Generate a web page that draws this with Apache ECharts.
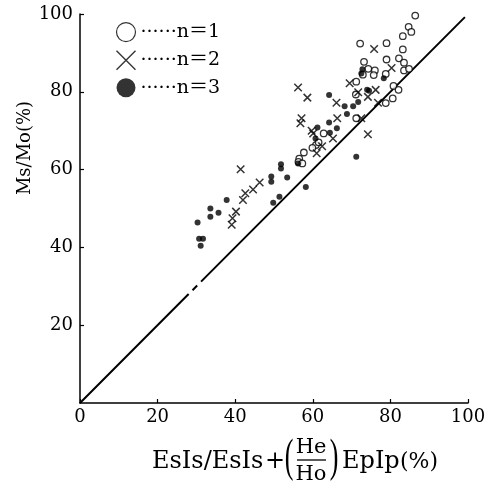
<!DOCTYPE html>
<html>
<head>
<meta charset="utf-8">
<script src="https://cdn.jsdelivr.net/npm/echarts@6/dist/echarts.min.js"></script>
<style>
  html, body { margin: 0; padding: 0; background: #fff; }
  #chart { width: 492px; height: 486px; }
</style>
</head>
<body>
<div id="chart"></div>
<script>
// values: [x %, y %]
const seriesNames = ['n＝1', 'n＝2', 'n＝3']
const openCircles = [[86.4, 99.6], [84.7, 96.7], [85.4, 95.4], [83.2, 94.3], [72.2, 92.4], [79.0, 92.5],
  [83.2, 90.9], [73.2, 87.7], [79.0, 88.3], [82.2, 88.6], [83.5, 87.5], [74.3, 85.9], [76.0, 85.5],
  [72.9, 84.4], [75.7, 84.3], [78.8, 84.6], [83.5, 85.5], [84.8, 85.9], [71.2, 82.6], [80.8, 81.5],
  [82.1, 80.5], [80.6, 78.3], [78.8, 77.1], [71.1, 79.3], [71.2, 73.2], [62.8, 69.3], [60.8, 66.3],
  [59.9, 65.6], [57.7, 64.4], [56.5, 62.8], [56.3, 62.0], [57.3, 61.6], [61.5, 67.0]]
const crosses = [[75.8, 91.0], [56.2, 81.1], [58.6, 78.5], [69.5, 82.2], [80.3, 86.1], [76.2, 80.5],
  [71.7, 79.9], [74.2, 78.7], [66.1, 77.2], [76.8, 77.2], [66.3, 73.2], [57.1, 73.2], [56.8, 71.9],
  [72.5, 73.2], [59.7, 70.0], [60.1, 69.3], [65.2, 68.0], [74.2, 69.1], [62.4, 66.0], [61.0, 64.2],
  [41.4, 60.1], [46.3, 56.7], [44.6, 54.9], [42.6, 53.9], [42.0, 52.2], [40.2, 49.2], [39.3, 47.5],
  [39.1, 45.8]]
const filledDots = [[30.3, 46.4], [30.7, 42.2], [31.7, 42.2], [31.1, 40.4], [33.6, 50.0], [33.6, 47.9],
  [35.7, 48.9], [37.8, 52.2], [49.3, 58.2], [49.3, 56.9], [49.8, 51.5], [51.4, 53.0], [51.8, 61.4],
  [51.8, 60.3], [53.4, 58.0], [58.2, 55.5], [71.2, 63.3], [56.2, 61.6], [64.2, 79.2], [68.2, 76.3],
  [70.4, 76.3], [71.7, 77.4], [68.8, 74.3], [64.2, 72.1], [66.2, 70.6], [64.4, 69.5], [61.2, 70.8],
  [60.7, 68.0], [78.3, 83.5], [72.8, 85.8], [72.5, 84.7], [74.0, 80.5], [74.5, 80.3]]
// y = x reference line, with the small breaks seen in the print
const diagonal = [[0, 0], [28.0, 28.0], null, [29.0, 29.0], [30.2, 30.2], null, [31.2, 31.2], [99.2, 99.2]]

const serif = '"DejaVu Serif", "Liberation Serif", serif'
const thinSerif = '"Liberation Serif", serif'
const legendFont = '"DejaVu Serif", "Noto Sans CJK JP", serif'
const crossPath = 'path://M0,0L10,10M10,0L0,10'

const chart = echarts.init(document.getElementById('chart'))

function valueAxis(extra) {
  return Object.assign({
    type: 'value', min: 0, max: 100, interval: 20,
    splitLine: { show: false },
    axisLine: { lineStyle: { color: '#000', width: 1.5 } },
    axisTick: { inside: true, length: 4, lineStyle: { color: '#000', width: 1.2 } },
    axisLabel: { color: '#000', fontFamily: serif, fontSize: 18 }
  }, extra)
}

chart.setOption({
  animation: false,
  backgroundColor: '#fff',
  grid: { left: 80, right: 24, top: 14, bottom: 83 },
  xAxis: valueAxis({ axisLabel: { color: '#000', fontFamily: serif, fontSize: 18, margin: 5 } }),
  yAxis: valueAxis({ axisLabel: { color: '#000', fontFamily: serif, fontSize: 18, margin: 7, showMinLabel: false } }),
  legend: {
    orient: 'vertical', left: 109, top: 17,
    itemWidth: 19, itemHeight: 19, itemGap: 6,
    formatter: name => '······' + name,
    textStyle: { color: '#000', fontFamily: legendFont, fontSize: 19 },
    data: [
      { name: seriesNames[0], icon: 'circle', itemStyle: { color: '#fff', borderColor: '#000', borderWidth: 1.2 } },
      { name: seriesNames[1], icon: crossPath, itemStyle: { color: 'none', borderColor: '#000', borderWidth: 1.4 } },
      { name: seriesNames[2], icon: 'circle', itemStyle: { color: '#000', borderWidth: 0 } }
    ]
  },
  series: [
    {
      name: seriesNames[0], type: 'scatter', data: openCircles, symbol: 'circle', symbolSize: 6.5,
      itemStyle: { color: '#fff', borderColor: '#000', borderWidth: 1.3 }, z: 3
    },
    {
      name: seriesNames[1], type: 'scatter', data: crosses, symbol: crossPath, symbolSize: 7.5,
      itemStyle: { color: 'none', borderColor: '#000', borderWidth: 1.5 }, z: 3
    },
    {
      name: seriesNames[2], type: 'scatter', data: filledDots, symbol: 'circle', symbolSize: 6,
      itemStyle: { color: '#000' }, z: 4
    },
    {
      type: 'line', data: diagonal, symbol: 'none', silent: true, connectNulls: false,
      lineStyle: { color: '#000', width: 2 }, z: 2
    }
  ],
  graphic: [
    { type: 'text', x: 25, y: 148, rotation: Math.PI / 2,
      style: { text: 'Ms/Mo(%)', fill: '#000', font: '18px ' + serif, align: 'center', verticalAlign: 'middle' } },
    { type: 'text', x: 152, y: 462,
      style: { text: 'EsIs/EsIs', fill: '#000', font: '24px ' + serif, align: 'left', verticalAlign: 'middle' } },
    { type: 'text', x: 275, y: 462,
      style: { text: '+', fill: '#000', font: '24px ' + serif, align: 'center', verticalAlign: 'middle' } },
    { type: 'text', x: 289, y: 459, scaleY: 1.8,
      style: { text: '(', fill: '#000', font: '26px ' + thinSerif, align: 'center', verticalAlign: 'middle' } },
    { type: 'text', x: 311, y: 448,
      style: { text: 'He', fill: '#000', font: '21px ' + serif, align: 'center', verticalAlign: 'middle' } },
    { type: 'line', shape: { x1: 297, y1: 460, x2: 326, y2: 460 }, style: { stroke: '#000', lineWidth: 1.3 } },
    { type: 'text', x: 311, y: 475,
      style: { text: 'Ho', fill: '#000', font: '21px ' + serif, align: 'center', verticalAlign: 'middle' } },
    { type: 'text', x: 334, y: 459, scaleY: 1.8,
      style: { text: ')', fill: '#000', font: '26px ' + thinSerif, align: 'center', verticalAlign: 'middle' } },
    { type: 'text', x: 342, y: 462,
      style: { text: 'EpIp', fill: '#000', font: '24px ' + serif, align: 'left', verticalAlign: 'middle' } },
    { type: 'text', x: 400, y: 462,
      style: { text: '(%)', fill: '#000', font: '22px ' + serif, align: 'left', verticalAlign: 'middle' } }
  ]
})
</script>
</body>
</html>
